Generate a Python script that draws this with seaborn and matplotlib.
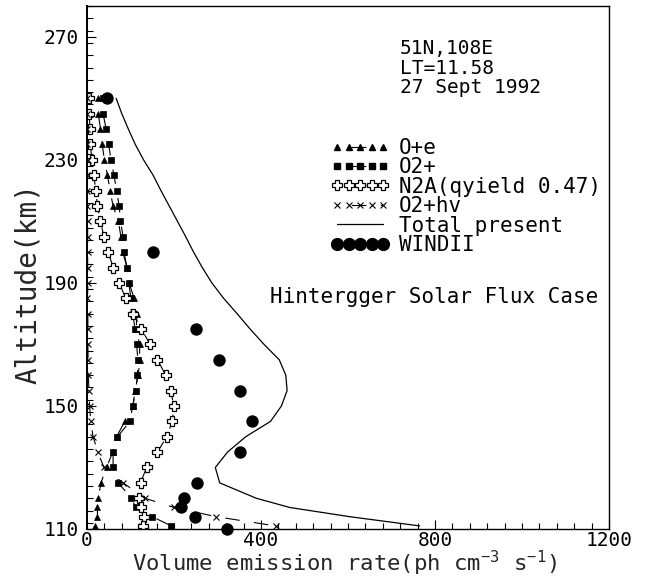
import matplotlib
matplotlib.use("Agg")
import matplotlib.pyplot as plt
from matplotlib.lines import Line2D
from matplotlib.ticker import MultipleLocator, FixedLocator
import seaborn as sns

# ---- data -------------------------------------------------------------
altitude = [250, 245, 240, 235, 230, 225, 220, 215, 210, 205, 200, 195, 190,
            185, 180, 175, 170, 165, 160, 155, 150, 145, 140, 135, 130, 125,
            120, 117, 114, 111]

o_plus_e = [25, 26, 31, 35, 40, 47, 53, 60, 72, 78, 82, 92, 97,
            108, 115, 113, 121, 121, 118, 110, 106, 87, 68, 59, 45, 32,
            26, 24, 24, 18]

o2_plus = [36, 37, 44, 50, 55, 62, 68, 74, 77, 83, 85, 92, 96,
           101, 106, 110, 114, 117, 116, 112, 105, 99, 70, 60, 60, 72,
           102, 112, 150, 194]

n2a = [5, 5, 7, 8, 11, 16, 20, 24, 31, 39, 49, 60, 74,
       89, 106, 125, 145, 162, 181, 192, 200, 196, 183, 162, 137, 123,
       119, 124, 131, 129]

o2_hv = [1, 1, 1, 1, 1.5, 1, 1, 1, 1.5, 1.5, 1.5, 1.5, 2,
         1, 2, 2, 2, 2.5, 3, 4.5, 6, 8.5, 14, 25, 39, 83,
         133, 200, 297, 434]

total_present = [67, 80, 95, 111, 130, 152, 170, 189, 208, 227, 245, 265, 287,
                 314, 345, 375, 407, 442, 457, 460, 447, 422, 365, 323, 295, 305,
                 389, 466, 604, 765]

windii_alt = [250, 200, 175, 165, 155, 145, 135, 125, 120, 117, 114, 110]
windii_rate = [45, 151, 251, 304, 351, 380, 351, 252, 223, 217, 249, 321]

x_ticks = [0, 400, 800, 1200]
x_tick_labels = ["0", "400", "800", "1200"]
y_ticks = [110, 150, 190, 230, 270]
y_tick_labels = ["110", "150", "190", "230", "270"]

legend_labels = ["O+e", "O2+", "N2A(qyield 0.47)", "O2+hv",
                 "Total present", "WINDII"]
site_lines = ["51N,108E", "LT=11.58", "27 Sept 1992"]
flux_case = "Hintergger Solar Flux Case"

# ---- style ------------------------------------------------------------
sns.set_theme(style="white")
plt.rcParams["font.family"] = ["DejaVu Sans Mono", "DejaVu Sans"]
plt.rcParams["mathtext.fontset"] = "custom"
plt.rcParams["mathtext.rm"] = "DejaVu Sans Mono"
plt.rcParams["mathtext.default"] = "regular"
plt.rcParams["lines.scale_dashes"] = False
plt.rcParams["text.color"] = "black"

W, H = 646, 578
fig = plt.figure(figsize=(W / 100, H / 100), dpi=100)
fig.patch.set_facecolor("white")
ax = fig.add_axes([87 / W, 1 - 529 / H, (609 - 87) / W, (529 - 6) / H])
ax.set_facecolor("white")

dash = (10.4, (10.4, 10.4))
common = dict(color="black", lw=0.8, linestyle=dash, sort=False,
              estimator=None, ax=ax, legend=False)

sns.lineplot(x=o_plus_e, y=altitude, marker="^", ms=4.5, mec="black",
             mfc="black", mew=0.5, **common)
sns.lineplot(x=o2_plus, y=altitude, marker="s", ms=3.8, mec="black",
             mfc="black", mew=0.5, **common)
sns.lineplot(x=n2a, y=altitude, marker="P", ms=6.5, mec="black",
             mfc="white", mew=0.9, **common)
sns.lineplot(x=o2_hv, y=altitude, marker="x", ms=4.5, mec="black",
             mew=0.8, **common)
sns.lineplot(x=total_present, y=altitude, sort=False, estimator=None,
             color="black", lw=0.9, ax=ax, legend=False)
sns.scatterplot(x=windii_rate, y=windii_alt, marker="o", s=80,
                color="black", edgecolor="black", linewidth=0, ax=ax,
                legend=False, zorder=5, clip_on=False)

# ---- axes -------------------------------------------------------------
ax.set_xlim(0, 1200)
ax.set_ylim(110, 280)
ax.xaxis.set_major_locator(FixedLocator(x_ticks))
ax.set_xticklabels(x_tick_labels)
ax.xaxis.set_minor_locator(MultipleLocator(40))
ax.yaxis.set_major_locator(FixedLocator(y_ticks))
ax.set_yticklabels(y_tick_labels)
ax.yaxis.set_minor_locator(MultipleLocator(4))
ax.tick_params(which="both", direction="in", top=False, right=False,
               left=True, bottom=True, color="black", width=0.8,
               labelsize=14, labelcolor="black")
ax.tick_params(which="major", length=6.5)
ax.tick_params(which="minor", length=4.3)
ax.tick_params(axis="y", which="major", pad=6)
ax.tick_params(axis="x", which="major", pad=1.2)
for sp in ax.spines.values():
    sp.set_visible(True)
    sp.set_color("black")
    sp.set_linewidth(1.0)
ax.spines["left"].set_linewidth(1.4)

ax.set_xlabel("Volume emission rate(ph cm$^{-3}$ s$^{-1}$)", fontsize=16,
              va="center")
ax.xaxis.set_label_coords((344 - 87) / 522, (529 - 563.5) / 523)
ax.set_ylabel("Altitude(km)", fontsize=20, va="center")
ax.yaxis.set_label_coords((28 - 87) / 522, (529 - 283) / 523)

# ---- legend -----------------------------------------------------------
handles = [
    Line2D([], [], color="black", lw=0.8, linestyle=dash, marker="^", ms=4.5,
           mfc="black", mec="black"),
    Line2D([], [], color="black", lw=0.8, linestyle=dash, marker="s", ms=3.8,
           mfc="black", mec="black"),
    Line2D([], [], color="black", lw=0.8, linestyle=dash, marker="P", ms=6.5,
           mfc="white", mec="black", mew=0.9),
    Line2D([], [], color="black", lw=0.8, linestyle=dash, marker="x", ms=4.5,
           mec="black", mew=0.8),
    Line2D([], [], color="black", lw=0.9),
    Line2D([], [], color="black", linestyle="none", marker="o", ms=8.5,
           mfc="black", mec="black"),
]
ax.legend(handles, legend_labels, loc="upper left",
          bbox_to_anchor=(331 / W, 1 - 138 / H), bbox_transform=fig.transFigure,
          frameon=False, numpoints=5, handlelength=2.8, handletextpad=0.45,
          labelspacing=-0.03, borderpad=0, borderaxespad=0, fontsize=15)

# ---- annotations ------------------------------------------------------
fig.text(400 / W, 1 - 39 / H, "\n".join(site_lines), fontsize=14,
         ha="left", va="top", linespacing=1.04)
fig.text(270 / W, 1 - 297 / H, flux_case, fontsize=15, ha="left",
         va="center")

fig.savefig("out.png", dpi=100, facecolor="white")
